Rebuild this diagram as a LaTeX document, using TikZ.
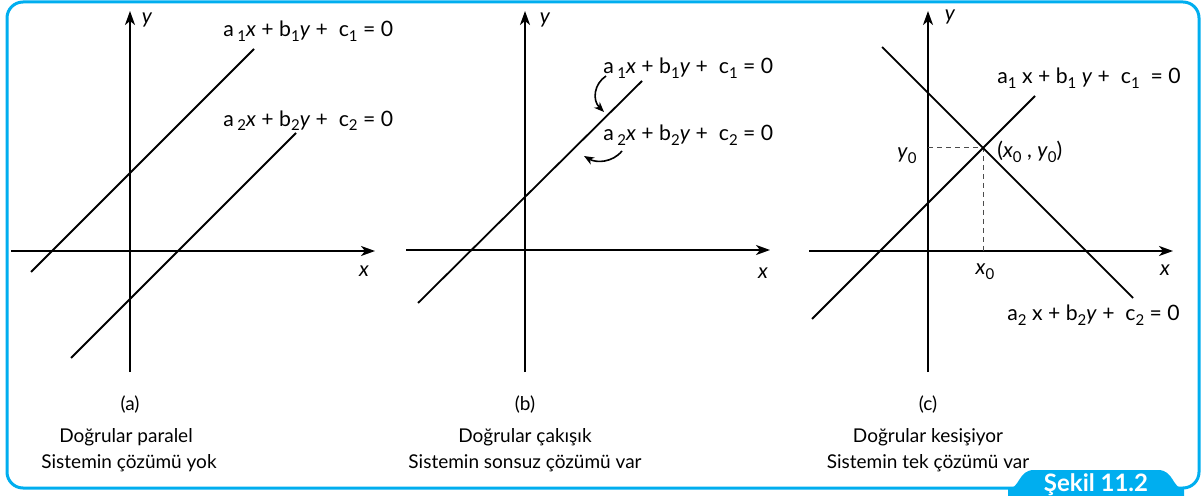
\documentclass[tikz,border=0pt]{standalone}
\usepackage{fontspec}
\setmainfont{Lato}
\usetikzlibrary{arrows.meta}
\definecolor{framecol}{RGB}{0,174,239}
\newcommand{\lsub}[1]{\raisebox{-0.45ex}{\fontsize{7.5}{8}\selectfont #1}}
\begin{document}
\begin{tikzpicture}[x=0.5pt,y=-0.5pt,
  axis/.style={line width=1pt,-{Stealth[length=7pt,width=5pt,inset=2pt]}},
  ln/.style={line width=0.9pt},
  dsh/.style={line width=0.5pt,dashed,dash pattern=on 2.5pt off 2pt,black!70},
  lbl/.style={inner sep=0pt,font=\fontsize{10.6}{12}\selectfont},
  axl/.style={inner sep=0pt,font=\fontsize{10.5}{12}\selectfont\itshape},
  capt/.style={inner sep=0pt,font=\fontsize{9.5}{12}\selectfont},
  curv/.style={line width=0.8pt,-{Stealth[length=5pt,width=4pt,inset=1.5pt]}}]
\useasboundingbox (0,0) rectangle (1202,496);
% frame
\draw[framecol,line width=1.5pt,rounded corners=8pt] (1020,488) -- (7,488) -- (7,2) -- (1199,2) -- (1199,488) -- (1170,488);
\fill[framecol] (1008,488.75) .. controls (1020,488.75) and (1018,470) .. (1034,470) -- (1158,470) .. controls (1174,470) and (1172,488.75) .. (1184,488.75) -- (1184,496) -- (1008,496) -- cycle;
\node[inner sep=0pt,text=white,font=\fontsize{12}{14}\selectfont\bfseries] (tab) at (1096,485) {Şekil 11.2};

% ---------- panel (a)
\coordinate (aYb) at (130,372); \coordinate (aYt) at (130,11);
\coordinate (aXl) at (11,251);  \coordinate (aXr) at (375,251);
\draw[axis] (aYb) -- (aYt);
\draw[axis] (aXl) -- (aXr);
\node[axl] (ay) at (147,20) {y};
\node[axl] (ax) at (364,271) {x};
\coordinate (a1s) at (31,272); \coordinate (a1e) at (254,49);
\coordinate (a2s) at (71,358); \coordinate (a2e) at (296,133);
\draw[ln] (a1s) -- (a1e);
\draw[ln] (a2s) -- (a2e);
\node[lbl,anchor=west] (aeq1) at (223,31) {a\,\lsub{1}\textit{x} + b\lsub{1}\textit{y} + \ c\lsub{1} = 0};
\node[lbl,anchor=west] (aeq2) at (223,121) {a\,\raisebox{-0.35ex}{\fontsize{7.5}{8}\selectfont 2}\textit{x} + b\raisebox{-0.35ex}{\fontsize{7.5}{8}\selectfont 2}\textit{y} + \ c\raisebox{-0.35ex}{\fontsize{7.5}{8}\selectfont 2} = 0};
\node[capt] (acap) at (130,405) {(a)};
\node[capt] (at1) at (126,437) {Doğrular paralel};
\node[capt] (at2) at (129,463) {Sistemin çözümü yok};

% ---------- panel (b)
\coordinate (bYb) at (525,372); \coordinate (bYt) at (525,11);
\coordinate (bXl) at (406,250); \coordinate (bXr) at (770,250);
\draw[axis] (bYb) -- (bYt);
\draw[axis] (bXl) -- (bXr);
\node[axl] (by) at (545,20) {y};
\node[axl] (bx) at (763,273) {x};
\coordinate (b1s) at (418,303); \coordinate (b1e) at (642,81);
\draw[ln] (b1s) -- (b1e);
\node[lbl,anchor=west] (beq1) at (603,68) {a\,\lsub{1}\textit{x} + b\lsub{1}\textit{y} + \ c\lsub{1} = 0};
\node[lbl,anchor=west] (beq2) at (603,135) {a\,\lsub{2}\textit{x} + b\lsub{2}\textit{y} + \ c\lsub{2} = 0};
\coordinate (bar1s) at (606,76); \coordinate (bar1t) at (604,112);
\coordinate (bar2s) at (622,151); \coordinate (bar2t) at (584,156);
\draw[curv] (bar1s) .. controls (594,84) and (592,100) .. (bar1t);
\draw[curv] (bar2s) .. controls (612,163) and (596,163) .. (bar2t);
\node[capt] (bcap) at (525,405) {(b)};
\node[capt] (bt1) at (525,437) {Doğrular çakışık};
\node[capt] (bt2) at (525,463) {Sistemin sonsuz çözümü var};

% ---------- panel (c)
\coordinate (cYb) at (928,372); \coordinate (cYt) at (928,11);
\coordinate (cXl) at (809,251); \coordinate (cXr) at (1173,251);
\draw[axis] (cYb) -- (cYt);
\draw[axis] (cXl) -- (cXr);
\node[axl] (cy) at (950,17) {y};
\node[axl] (cx) at (1165,270) {x};
\coordinate (c1s) at (812,319); \coordinate (c1e) at (1035,96);
\coordinate (c2s) at (882,47);  \coordinate (c2e) at (1133,298);
\coordinate (cP) at (983,148);
\coordinate (cPy) at (928,148); \coordinate (cPx) at (983,251);
\draw[dsh] (cPy) -- (cP) -- (cPx);
\draw[ln] (c1s) -- (c1e);
\draw[ln] (c2s) -- (c2e);
\node[lbl] (cy0) at (907,156) {\textit{y}\lsub{0}};
\node[lbl] (cx0) at (985,272) {\textit{x}\lsub{0}};
\node[lbl,anchor=west] (cpt) at (997,152) {(\textit{x}\lsub{0} , \textit{y}\lsub{0})};
\node[lbl,anchor=west] (ceq1) at (997,78) {a\lsub{1} x + b\lsub{1} \textit{y} + \ c\lsub{1} \ = 0};
\node[lbl,anchor=west] (ceq2) at (1007,315) {a\lsub{2} x + b\lsub{2}\textit{y} + \ c\lsub{2} = 0};
\node[capt] (ccap) at (928,405) {(c)};
\node[capt] (ct1) at (928,437) {Doğrular kesişiyor};
\node[capt] (ct2) at (928,463) {Sistemin tek çözümü var};
\end{tikzpicture}
\end{document}
